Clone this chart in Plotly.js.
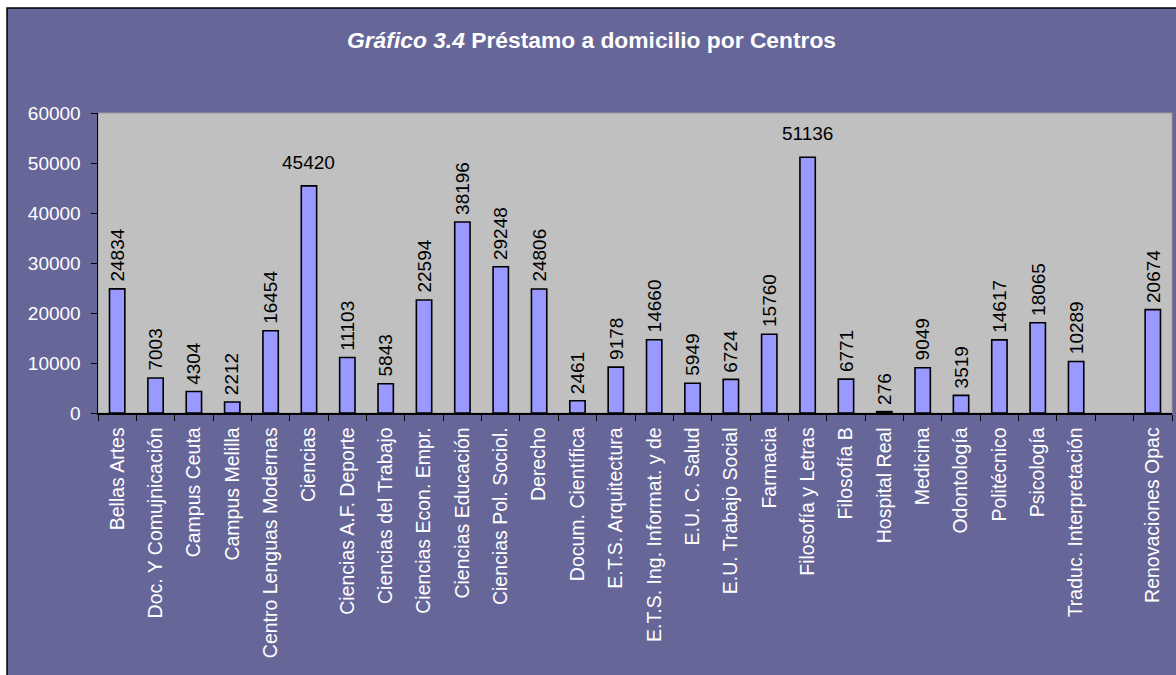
<!DOCTYPE html>
<html>
<head>
<meta charset="utf-8">
<script src="https://cdn.plot.ly/plotly-3.0.1.min.js"></script>
<style>html,body{margin:0;padding:0;background:#fff;}#chart{width:1176px;height:675px;}</style>
</head>
<body>
<div id="chart"></div>
<script>
const categories = ["Bellas Artes","Doc. Y Comujnicación","Campus Ceuta","Campus Melilla","Centro Lenguas Modernas","Ciencias","Ciencias A.F. Deporte","Ciencias del Trabajo","Ciencias Econ. Empr.","Ciencias Educación","Ciencias Pol. Sociol.","Derecho","Docum. Científica","E.T.S. Arquitectura","E.T.S. Ing. Informat. y de","E.U. C. Salud","E.U. Trabajo Social","Farmacia","Filosofía y Letras","Filosofía B","Hospital Real","Medicina","Odontología","Politécnico","Psicología","Traduc. Interpretación"," ","Renovaciones Opac"];
const values = [24834,7003,4304,2212,16454,45420,11103,5843,22594,38196,29248,24806,2461,9178,14660,5949,6724,15760,51136,6771,276,9049,3519,14617,18065,10289,null,20674];
const horizontalLabels = ["Ciencias","Filosofía y Letras"];
const yTicks = [0,10000,20000,30000,40000,50000,60000];

const font = "Liberation Sans, Arial, sans-serif";

const trace = {
  type: "bar",
  x: categories,
  y: values,
  cliponaxis: false,
  marker: {color: "#9999FF", line: {color: "#000", width: 1.6}},
  hoverinfo: "x+y"
};

const annotations = [];
categories.forEach((c, i) => {
  const v = values[i];
  if (v === null) return;
  const horiz = horizontalLabels.includes(c);
  annotations.push({x: c, y: v, xref: "x", yref: "y", text: String(v), showarrow: false,
    textangle: horiz ? 0 : -90, xanchor: "center", yanchor: "bottom", yshift: horiz ? 12 : 6,
    borderpad: 0, font: {family: font, size: 19, color: "#000"}});
});

const layout = {
  width: 1176, height: 675,
  margin: {l: 98, r: 4, t: 113, b: 262, pad: 0},
  paper_bgcolor: "#ffffff",
  plot_bgcolor: "rgba(0,0,0,0)",
  showlegend: false,
  bargap: 0.6,
  title: {text: "<i>Gráfico 3.4</i> Préstamo a domicilio por Centros", x: 0.503, xanchor: "center", y: 0.94, yanchor: "middle",
    font: {family: font, size: 22.8, color: "#ffffff", weight: "bold"}},
  xaxis: {type: "category", showgrid: false, zeroline: false, showline: true, linecolor: "#000", linewidth: 1.5,
    ticks: "outside", tickson: "boundaries", ticklen: 6, tickcolor: "#000", tickwidth: 1,
    tickangle: -90, ticklabelstandoff: 5, tickfont: {family: font, size: 19.5, color: "#ffffff"}, fixedrange: true},
  yaxis: {range: [0, 60000], tickvals: yTicks, ticktext: yTicks.map(String), showgrid: false, zeroline: false,
    showline: true, linecolor: "#000", linewidth: 1.5, ticks: "outside", ticklen: 6, tickcolor: "#000",
    ticklabelstandoff: 6, tickfont: {family: font, size: 19, color: "#ffffff"}, fixedrange: true},
  shapes: [
    {type: "rect", xref: "paper", yref: "paper", layer: "below",
      x0: (7-98)/1074, x1: (1180-98)/1074, y0: (413-680)/300, y1: (413-8)/300,
      fillcolor: "#666699", line: {color: "#000", width: 1.5}},
    {type: "rect", xref: "paper", yref: "paper", layer: "below",
      x0: 0, x1: 1, y0: 0, y1: 1, fillcolor: "#C0C0C0", line: {color: "#9a9a9a", width: 1}}
  ],
  annotations: annotations
};

Plotly.newPlot("chart", [trace], layout, {displayModeBar: false, staticPlot: true});
</script>
</body>
</html>
